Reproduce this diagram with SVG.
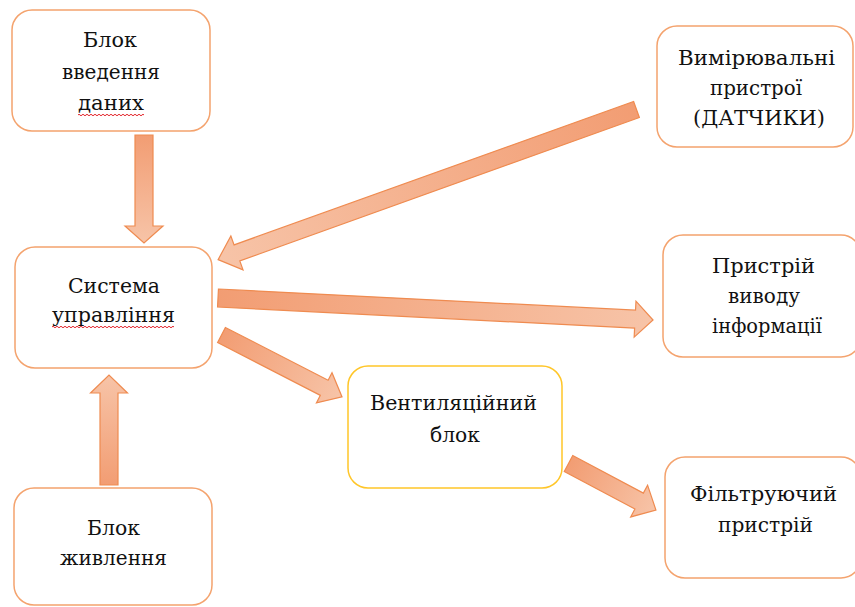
<svg xmlns="http://www.w3.org/2000/svg" width="855" height="607" viewBox="0 0 855 607">
<style>
.box{fill:#fff;stroke:#F4A36E;stroke-width:1.5}
.ybox{fill:#fff;stroke:#FFC629;stroke-width:1.5}
text{font-family:'DejaVu Serif',serif;font-size:20.5px;fill:#111;text-anchor:middle}
.arr{fill:url(#ag);stroke:#EF8B50;stroke-width:1.2;stroke-linejoin:miter}
.wave{fill:none;stroke:#E3242B;stroke-width:1}
</style>
<defs>
<linearGradient id="ag" x1="0" y1="0" x2="1" y2="0">
<stop offset="0" stop-color="#F29D73"/>
<stop offset="1" stop-color="#F7C4A8"/>
</linearGradient>
</defs>
<rect width="855" height="607" fill="#fff"/>
<g id="connectors">
<path class="arr" transform="translate(144,135) rotate(90)" d="M0,-9 H91 V-19 L108,0 L91,19 V9 H0 Z"/>
<path class="arr" transform="translate(109,485) rotate(-90)" d="M0,-9 H92 V-18.5 L110,0 L92,18.5 V9 H0 Z"/>
<path class="arr" transform="translate(636.5,109.5) rotate(160.26)" d="M0,-8.5 H424.5 V-18 L444.5,0 L424.5,18 V8.5 H0 Z"/>
<path class="arr" transform="translate(218,298) rotate(2.9)" d="M0,-9 H417.6 V-18 L435.6,0 L417.6,18 V9 H0 Z"/>
<path class="arr" transform="translate(221.5,335) rotate(27.2)" d="M0,-8.5 H115.5 V-17 L135.5,0 L115.5,17 V8.5 H0 Z"/>
<path class="arr" transform="translate(568.5,463.5) rotate(28)" d="M0,-9 H80 V-18 L99,0 L80,18 V9 H0 Z"/>
</g>
<g id="node-input">
<rect class="box" x="12" y="10" width="198" height="121" rx="20"/>
<text x="110" y="47" textLength="54" lengthAdjust="spacingAndGlyphs">Блок</text>
<text x="111" y="79" textLength="98" lengthAdjust="spacingAndGlyphs">введення</text>
<text x="111" y="110" textLength="66" lengthAdjust="spacingAndGlyphs">даних</text>
<path class="wave" d="M78,115 q1,-1.5 2,0 t2,0 t2,0 t2,0 t2,0 t2,0 t2,0 t2,0 t2,0 t2,0 t2,0 t2,0 t2,0 t2,0 t2,0 t2,0 t2,0 t2,0 t2,0 t2,0 t2,0 t2,0 t2,0 t2,0 t2,0 t2,0 t2,0 t2,0 t2,0 t2,0 t2,0 t2,0 t2,0"/>
</g>
<g id="node-control">
<rect class="box" x="15" y="247" width="197" height="121" rx="20"/>
<text x="114" y="293" textLength="92" lengthAdjust="spacingAndGlyphs">Система</text>
<text x="113.5" y="322" textLength="123" lengthAdjust="spacingAndGlyphs">управління</text>
<path class="wave" d="M52,327 q1,-1.5 2,0 t2,0 t2,0 t2,0 t2,0 t2,0 t2,0 t2,0 t2,0 t2,0 t2,0 t2,0 t2,0 t2,0 t2,0 t2,0 t2,0 t2,0 t2,0 t2,0 t2,0 t2,0 t2,0 t2,0 t2,0 t2,0 t2,0 t2,0 t2,0 t2,0 t2,0 t2,0 t2,0 t2,0 t2,0 t2,0 t2,0 t2,0 t2,0 t2,0 t2,0 t2,0 t2,0 t2,0 t2,0 t2,0 t2,0 t2,0 t2,0 t2,0 t2,0 t2,0 t2,0 t2,0 t2,0 t2,0 t2,0 t2,0 t2,0 t2,0 t2,0"/>
</g>
<g id="node-power">
<rect class="box" x="14" y="488" width="198" height="117" rx="20"/>
<text x="113.5" y="535" textLength="53" lengthAdjust="spacingAndGlyphs">Блок</text>
<text x="113.5" y="565" textLength="107" lengthAdjust="spacingAndGlyphs">живлення</text>
</g>
<g id="node-sensors">
<rect class="box" x="657" y="26" width="196" height="121" rx="20"/>
<text x="756.5" y="65" textLength="157" lengthAdjust="spacingAndGlyphs">Вимірювальні</text>
<text x="756" y="95" textLength="92" lengthAdjust="spacingAndGlyphs">пристрої</text>
<text x="759" y="125" textLength="132" lengthAdjust="spacingAndGlyphs">(ДАТЧИКИ)</text>
</g>
<g id="node-output">
<rect class="box" x="663" y="235" width="198" height="122" rx="20"/>
<text x="763.5" y="273" textLength="103" lengthAdjust="spacingAndGlyphs">Пристрій</text>
<text x="764" y="303" textLength="72" lengthAdjust="spacingAndGlyphs">виводу</text>
<text x="767" y="333" textLength="110" lengthAdjust="spacingAndGlyphs">інформації</text>
</g>
<g id="node-vent">
<rect class="ybox" x="348" y="366" width="214" height="122" rx="20"/>
<text x="453.5" y="410" textLength="167" lengthAdjust="spacingAndGlyphs">Вентиляційний</text>
<text x="455" y="442" textLength="50" lengthAdjust="spacingAndGlyphs">блок</text>
</g>
<g id="node-filter">
<rect class="box" x="665" y="457" width="196" height="121" rx="20"/>
<text x="763.5" y="501" textLength="147" lengthAdjust="spacingAndGlyphs">Фільтруючий</text>
<text x="765.5" y="532" textLength="95" lengthAdjust="spacingAndGlyphs">пристрій</text>
</g>
</svg>
